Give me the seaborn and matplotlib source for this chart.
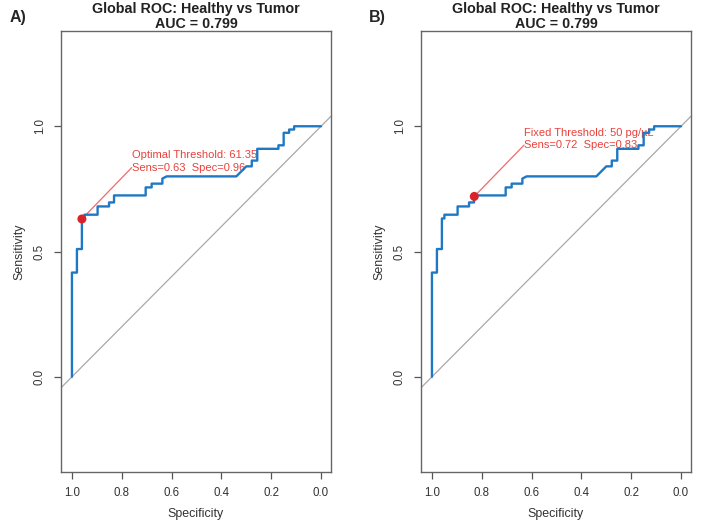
import numpy as np
import pandas as pd
import seaborn as sns
import matplotlib.pyplot as plt

# ROC curve points (same curve in both panels)
specificity = [1.00, 1.00, 0.98, 0.98, 0.96, 0.96, 0.95, 0.95, 0.897, 0.897,
               0.851, 0.851, 0.831, 0.831, 0.704, 0.704, 0.68, 0.68, 0.637, 0.637,
               0.62, 0.34, 0.30, 0.278, 0.278, 0.256, 0.256, 0.171, 0.171, 0.15,
               0.15, 0.128, 0.128, 0.108, 0.108, 0.00]
sensitivity = [0.00, 0.416, 0.416, 0.51, 0.51, 0.632, 0.632, 0.647, 0.647, 0.68,
               0.68, 0.696, 0.696, 0.724, 0.724, 0.756, 0.756, 0.771, 0.771, 0.791,
               0.80, 0.80, 0.84, 0.84, 0.863, 0.863, 0.91, 0.91, 0.924, 0.924,
               0.974, 0.974, 0.987, 0.987, 1.00, 1.00]

roc = pd.DataFrame({'Specificity': specificity, 'Sensitivity': sensitivity})

panel_labels = ['A)', 'B)']
titles = ['Global ROC: Healthy vs Tumor\nAUC = 0.799'] * 2
point_spec = [0.96, 0.83]
point_sens = [0.63, 0.72]
point_text = ['Optimal Threshold: 61.35\nSens=0.63  Spec=0.96',
              'Fixed Threshold: 50 pg/µL\nSens=0.72  Spec=0.83']

sns.set_style('ticks')
plt.rcParams['font.family'] = ['Liberation Sans', 'DejaVu Sans']

fig = plt.figure(figsize=(7.2, 5.3), dpi=100)
lefts = [0.0847, 0.5847]

for i in range(2):
    ax = fig.add_axes([lefts[i], 0.1094, 0.375, 0.832])

    # chance diagonal
    ax.axline((1, 0), (0, 1), color='#a8a8a8', lw=0.9, zorder=1)

    sns.lineplot(data=roc, x='Specificity', y='Sensitivity', sort=False,
                 estimator=None, color='#1f78c4', lw=1.7, ax=ax, zorder=3)

    # threshold point with its label
    px, py = point_spec[i], point_sens[i]
    tx, ty = px - 0.2, py + 0.205
    ax.plot([px, tx], [py, ty], color='#f06a6a', lw=0.9, zorder=2)
    sns.scatterplot(x=[px], y=[py], color='#d9232a', s=42, edgecolor='none',
                    ax=ax, zorder=4)
    ax.text(tx, ty - 0.02, point_text[i], color='#e8413c', fontsize=8,
            ha='left', va='bottom', linespacing=1.3, zorder=2)

    ax.set_xlim(1.044, -0.04)
    ax.set_ylim(-0.38, 1.38)
    ax.set_xticks([1.0, 0.8, 0.6, 0.4, 0.2, 0.0])
    ax.set_xticklabels(['1.0', '0.8', '0.6', '0.4', '0.2', '0.0'])
    ax.set_yticks([0.0, 0.5, 1.0])
    ax.set_yticklabels(['0.0', '0.5', '1.0'], rotation=90, va='center')
    ax.tick_params(axis='both', length=5, width=0.9, color='#555555',
                   labelsize=8.3, labelcolor='#333333', pad=6)

    for sp in ax.spines.values():
        sp.set_visible(True)
        sp.set_color('#666666')
        sp.set_linewidth(1.0)

    ax.set_xlabel('Specificity', fontsize=8.9, color='#333333', labelpad=6)
    ax.set_ylabel('Sensitivity', fontsize=8.9, color='#333333', labelpad=6)
    ax.set_title(titles[i], fontsize=10.3, fontweight='bold', color='#222222',
                 pad=2, linespacing=1.1)

    fig.text(lefts[i] - 0.072, 0.967, panel_labels[i], fontsize=11.5,
             fontweight='bold', ha='left', va='center')

fig.savefig('out.png', dpi=100, facecolor='white')
